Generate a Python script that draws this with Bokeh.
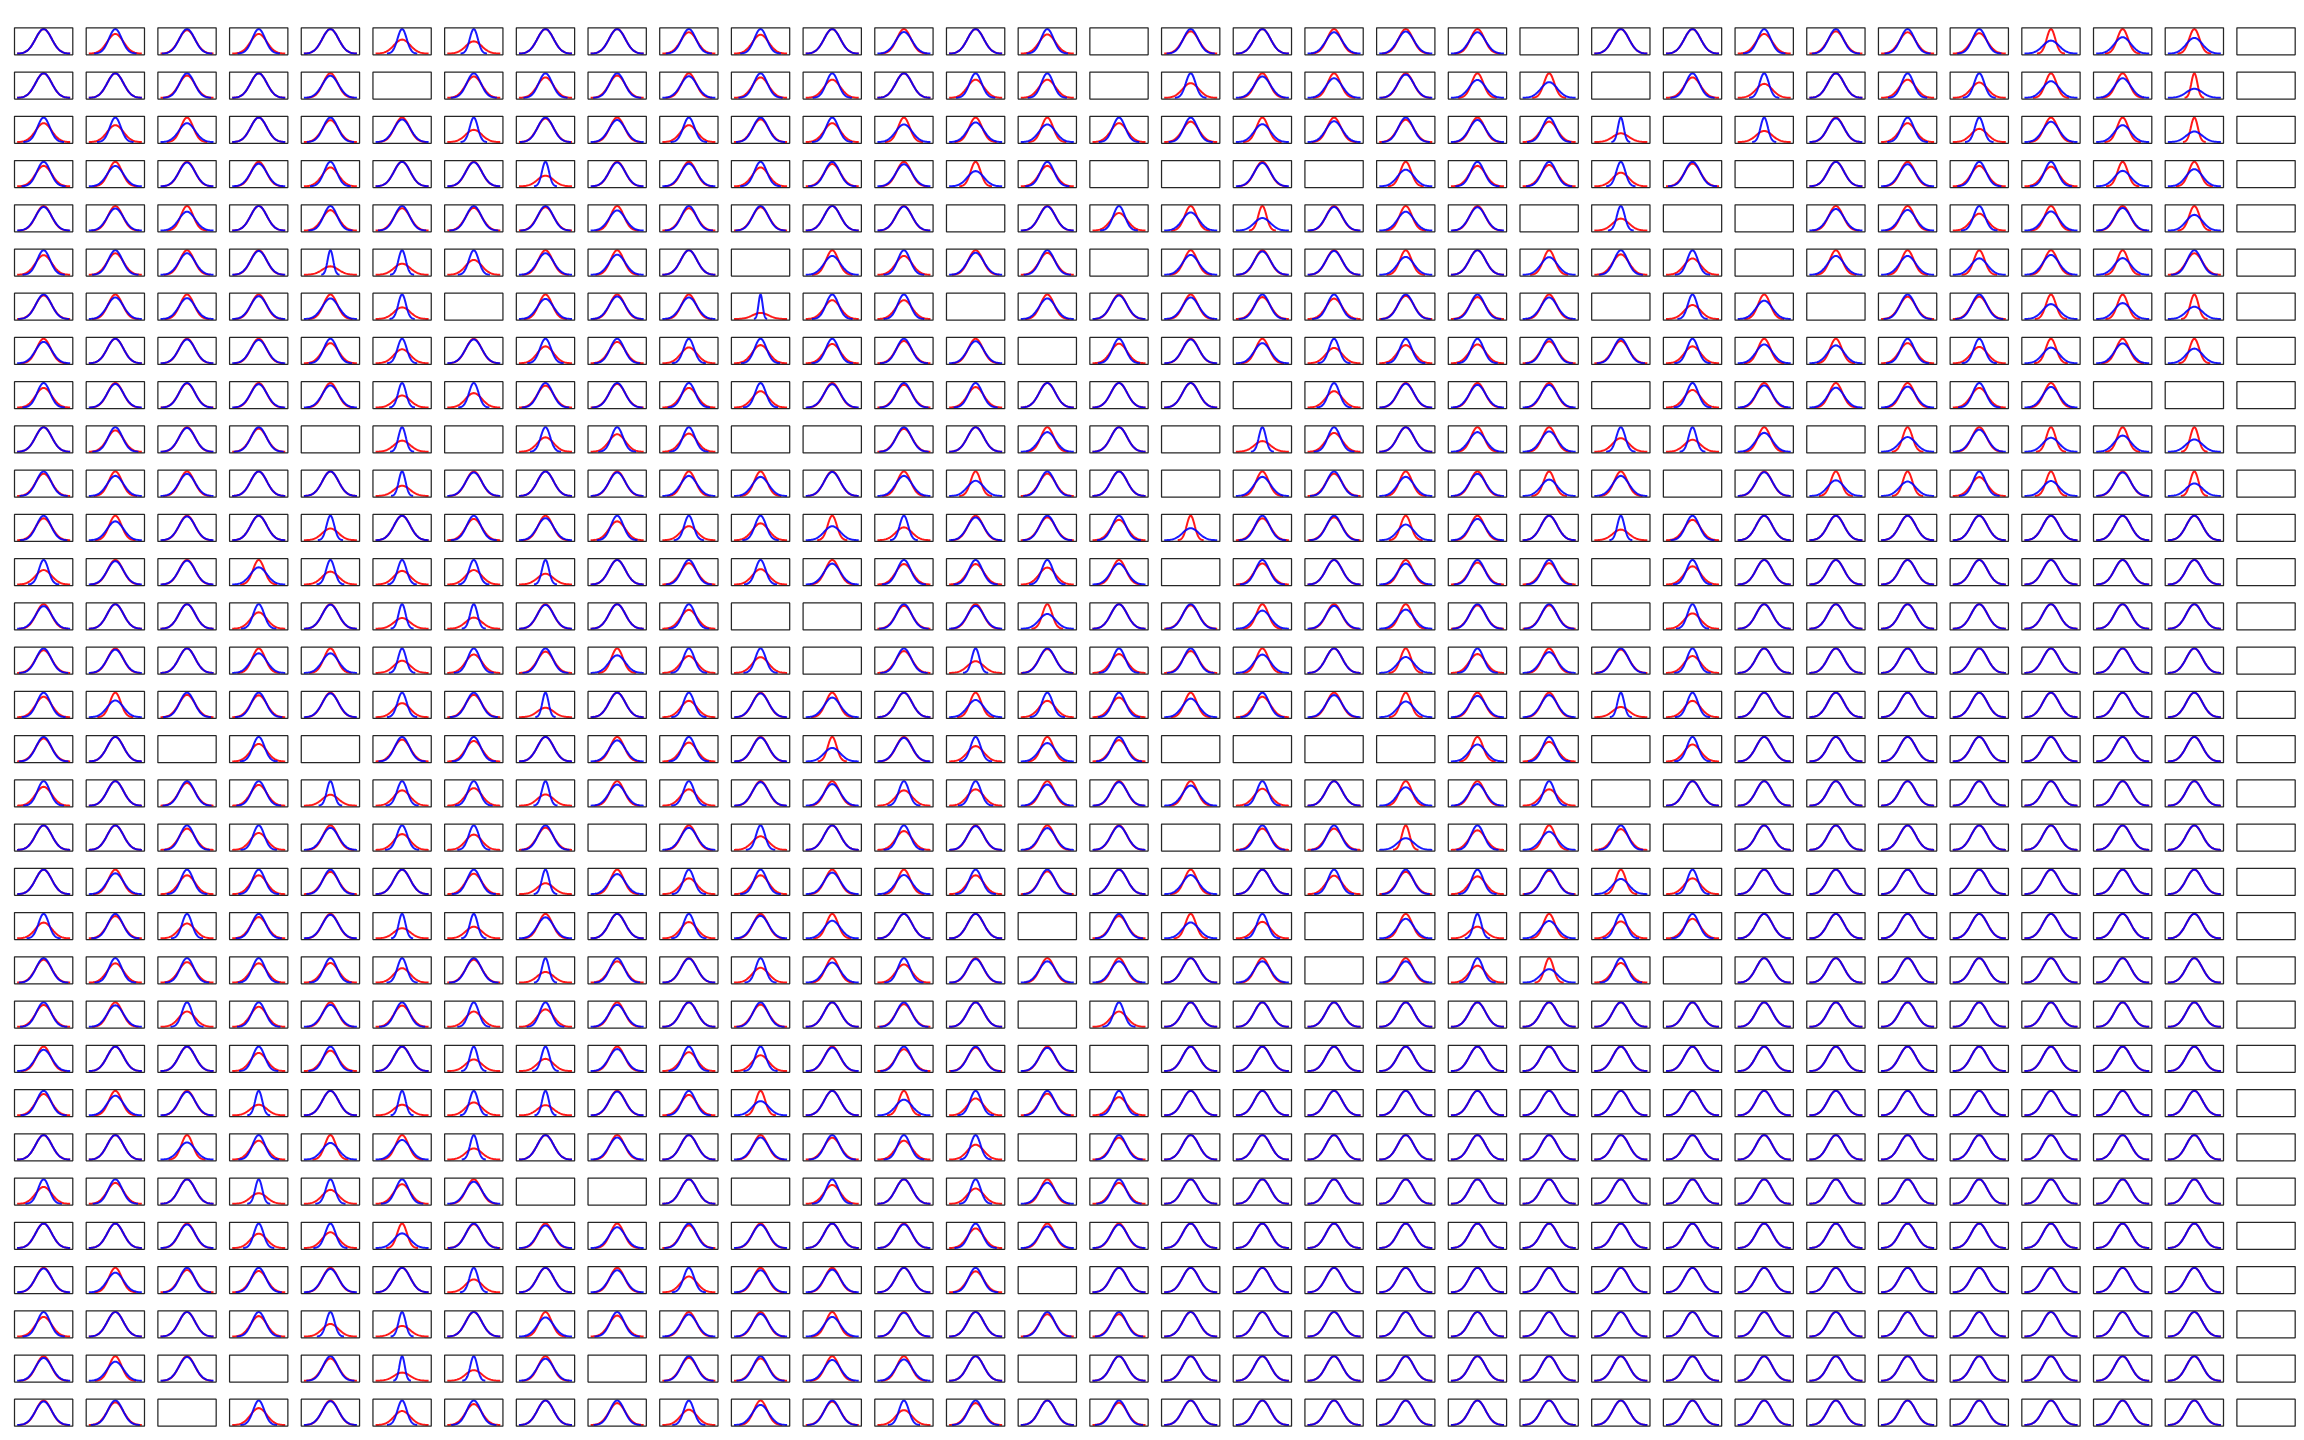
import numpy as np
from bokeh.plotting import figure
from bokeh.models import Range1d
from bokeh.embed import file_html
from bokeh.resources import INLINE

# Each value: width of the red normal curve relative to the blue one (sigma_red / sigma_blue).
# None marks an empty panel.
r00 = [1.0, 1.25, 1.05, 1.25, 1.0, 1.75, 2.0, 1.0, 1.0, 1.15, 1.3, 1.0, 0.88, 1.0, 1.28, None, 1.1, 1.0, 0.87, 0.9, 0.87, None, 1.0, 1.0, 1.25, 1.1, 1.15, 1.2, 0.53, 0.67, 0.64, None]
r01 = [1.0, 1.0, 1.1, 1.0, 0.9, None, 1.15, 1.2, 1.1, 0.88, 1.2, 1.35, 1.0, 1.35, 1.35, None, 1.67, 0.87, 0.8, 0.95, 0.73, 0.64, None, 1.2, 1.75, 1.0, 1.35, 1.6, 0.68, 0.8, 0.37, None]
r02 = [1.3, 1.45, 0.77, 1.0, 1.12, 0.92, 2.0, 1.04, 0.9, 1.45, 1.08, 1.3, 0.72, 0.8, 0.72, 1.3, 1.2, 0.73, 0.85, 1.1, 0.9, 1.2, 2.8, None, 2.2, 0.97, 1.3, 1.85, 0.83, 0.69, 0.43, None]
r03 = [1.2, 0.83, 0.97, 0.92, 1.3, 1.0, 0.98, 2.3, 0.97, 0.92, 1.3, 1.1, 0.9, 0.62, 1.2, None, None, 0.95, None, 0.68, 1.2, 1.15, 1.8, 1.08, None, 1.0, 0.9, 1.2, 1.25, 0.63, 0.7, None]
r04 = [0.96, 0.9, 0.77, 1.0, 1.2, 1.1, 1.08, 1.05, 0.82, 1.1, 1.05, 1.0, 0.98, None, 0.98, 1.4, 0.74, 0.51, 0.96, 0.77, 0.95, None, 2.05, None, None, 0.88, 0.84, 1.45, 0.78, 0.92, 0.64, None]
r05 = [1.25, 1.14, 0.88, 0.97, 2.9, 2.2, 1.65, 0.88, 0.82, 1.0, None, 0.77, 1.3, 0.9, 1.12, None, 0.81, 0.95, 0.97, 0.73, 1.0, 0.72, 1.2, 1.5, None, 0.77, 0.77, 0.67, 0.81, 0.68, 1.14, None]
r06 = [1.04, 0.88, 0.85, 0.93, 0.84, 2.1, None, 0.82, 0.92, 0.88, 4.0, 1.3, 1.3, None, 0.84, 0.96, 0.88, 1.12, 1.2, 1.06, 1.12, 0.88, None, 1.75, 0.75, None, 1.1, 1.1, 0.61, 0.65, 0.5, None]
r07 = [0.87, 1.0, 0.97, 0.95, 1.22, 1.75, 0.97, 1.45, 1.15, 1.55, 1.35, 1.27, 1.1, 0.9, None, 1.25, 0.97, 0.82, 1.6, 1.35, 1.3, 1.12, 1.1, 1.45, 0.77, 0.73, 1.22, 1.5, 0.64, 0.81, 0.6, None]
r08 = [1.25, 0.96, 1.02, 0.95, 0.9, 2.05, 1.7, 1.12, 1.04, 1.25, 1.5, 0.95, 1.08, 1.2, 1.0, 1.0, 1.0, None, 1.5, 0.97, 0.92, 0.92, None, 1.4, 0.9, 0.81, 0.85, 1.25, 0.84, None, None, None]
r09 = [1.0, 1.15, 0.97, 1.06, None, 2.2, None, 1.7, 1.4, 1.35, None, None, 1.07, 1.0, 0.8, 1.0, None, 2.3, 1.3, 1.0, 0.8, 0.83, 1.8, 2.05, 0.77, None, 0.6, 0.9, 0.57, 0.66, 0.5, None]
r10 = [1.1, 0.82, 0.9, 1.0, 1.0, 2.4, 0.96, 1.0, 0.96, 0.82, 0.78, 0.98, 0.82, 0.62, 1.1, 1.0, None, 0.78, 1.1, 0.78, 0.9, 0.67, 0.82, None, 0.97, 0.64, 0.59, 1.3, 0.61, 0.96, 0.51, None]
r11 = [1.12, 0.77, 0.97, 1.0, 2.1, 1.0, 1.15, 0.9, 1.3, 1.75, 1.45, 0.57, 1.9, 0.93, 1.07, 1.2, 0.49, 1.12, 1.07, 0.64, 0.87, 1.0, 2.3, 1.2, 1.0, 1.0, 1.0, 1.0, 1.0, 1.0, 1.0, None]
r12 = [1.7, 0.95, 0.97, 0.7, 1.9, 1.8, 1.7, 2.3, 1.0, 1.15, 1.6, 0.85, 1.2, 1.2, 1.45, 0.85, None, 1.17, 1.0, 0.85, 1.12, 1.15, None, 1.35, 1.0, 1.0, 1.0, 1.0, 1.0, 1.0, 1.0, None]
r13 = [0.92, 1.0, 1.0, 1.5, 0.98, 2.3, 2.2, 0.97, 1.0, 1.3, None, None, 1.07, 0.93, 0.6, 1.0, 1.05, 0.74, 0.93, 0.78, 1.05, 1.05, None, 1.6, 1.0, 1.0, 1.0, 1.0, 1.0, 1.0, 1.0, None]
r14 = [1.08, 0.95, 1.0, 0.8, 0.8, 2.0, 1.33, 1.15, 0.72, 1.45, 1.55, None, 1.12, 2.1, 1.03, 1.3, 1.12, 0.75, 1.0, 0.65, 1.3, 0.85, 1.05, 1.45, 1.0, 1.0, 1.0, 1.0, 1.0, 1.0, 1.0, None]
r15 = [1.2, 0.68, 1.1, 1.12, 0.97, 1.75, 1.1, 2.6, 1.0, 1.5, 0.97, 0.8, 1.0, 0.7, 1.5, 1.25, 0.76, 1.2, 0.9, 0.64, 0.87, 0.9, 2.4, 1.5, 1.0, 1.0, 1.0, 1.0, 1.0, 1.0, 1.0, None]
r16 = [1.07, 1.0, None, 1.4, None, 1.12, 1.2, 1.0, 0.86, 1.3, 0.97, 0.55, 0.96, 1.6, 0.75, 1.15, None, None, None, None, 0.69, 1.25, None, 1.45, 1.0, 1.0, 1.0, 1.0, 1.0, 1.0, 1.0, None]
r17 = [1.3, 1.0, 1.08, 1.18, 2.25, 1.6, 1.4, 2.2, 0.86, 1.5, 0.96, 0.88, 1.6, 1.5, 0.86, 0.96, 0.82, 1.45, 1.0, 0.75, 0.88, 1.5, None, 1.0, 1.0, 1.0, 1.0, 1.0, 1.0, 1.0, 1.0, None]
r18 = [1.0, 1.0, 1.15, 1.45, 0.9, 1.55, 1.6, 1.1, None, 0.9, 1.8, 1.0, 1.3, 0.97, 0.89, 0.97, None, 1.15, 1.15, 0.48, 1.25, 0.74, 1.18, None, 1.0, 1.0, 1.0, 1.0, 1.0, 1.0, 1.0, None]
r19 = [1.0, 0.85, 1.3, 1.3, 1.1, 1.0, 1.2, 2.25, 0.82, 1.55, 1.3, 0.88, 0.78, 1.3, 1.08, 1.0, 0.78, 1.0, 1.33, 1.1, 1.38, 1.05, 0.62, 1.55, 1.0, 1.0, 1.0, 1.0, 1.0, 1.0, 1.0, None]
r20 = [1.55, 1.1, 1.65, 1.15, 0.96, 2.4, 2.1, 0.86, 1.0, 1.5, 0.92, 0.72, 1.0, 1.0, None, 1.1, 0.65, 1.48, None, 0.8, 2.1, 0.71, 1.45, 1.25, 1.0, 1.0, 1.0, 1.0, 1.0, 1.0, 1.0, None]
r21 = [1.07, 1.27, 1.2, 1.27, 1.25, 1.7, 1.07, 2.3, 1.15, 0.98, 1.65, 0.82, 1.35, 0.96, 0.87, 0.87, 1.0, 0.87, None, 0.87, 1.45, 0.55, 1.25, None, 1.0, 1.0, 1.0, 1.0, 1.0, 1.0, 1.0, None]
r22 = [1.12, 0.88, 1.6, 1.22, 0.9, 1.15, 1.6, 1.4, 0.9, 1.0, 1.1, 1.0, 1.08, 1.0, None, 1.6] + [1.0] * 15 + [None]
r23 = [0.87, 1.0, 1.0, 1.35, 1.2, 1.0, 2.1, 2.0, 0.9, 1.3, 1.55, 0.96, 1.12, 1.05, 0.95, None] + [1.0] * 15 + [None]
r24 = [1.15, 0.8, 0.96, 2.3, 1.0, 2.3, 1.9, 2.4, 0.97, 1.2, 0.58, 1.0, 0.64, 1.45, 1.13, 1.35] + [1.0] * 15 + [None]
r25 = [1.0, 1.0, 0.7, 1.3, 0.68, 0.8, 2.2, 1.0, 0.9, 1.0, 0.9, 1.12, 1.3, 1.65, None, 1.12] + [1.0] * 15 + [None]
r26 = [1.45, 1.17, 1.0, 2.3, 1.75, 1.25, 0.9, None, None, 1.0, None, 1.3, 1.0, 1.6, 0.86, 1.17] + [1.0] * 15 + [None]
r27 = [1.0, 1.0, 0.96, 1.7, 1.55, 0.6, 1.03, 0.92, 0.85, 1.08, 0.95, 1.0, 0.97, 1.25, 0.88, 0.95] + [1.0] * 15 + [None]
r28 = [0.97, 0.8, 1.1, 1.15, 0.95, 1.0, 1.9, 1.0, 0.9, 1.55, 0.9, 0.92, 1.0, 1.17, None, 1.0] + [1.0] * 15 + [None]
r29 = [1.25, 1.0, 1.0, 1.2, 1.95, 2.3, 1.0, 0.78, 1.17, 0.9, 0.92, 0.8, 0.97, 1.0, 1.1, 1.1] + [1.0] * 15 + [None]
r30 = [0.93, 0.78, 0.97, None, 1.1, 3.0, 2.3, 0.9, None, 1.07, 1.1, 0.85, 0.87, 1.0, None, 1.0] + [1.0] * 15 + [None]
r31 = [0.96, 1.08, None, 1.45, 0.97, 1.75, 1.17, 1.0, 1.12, 1.6, 0.82, 1.05, 1.65, 1.12, 1.0, 1.1] + [1.0] * 15 + [None]

panel_rows = [r00, r01, r02, r03, r04, r05, r06, r07, r08, r09, r10, r11, r12, r13, r14, r15,
              r16, r17, r18, r19, r20, r21, r22, r23, r24, r25, r26, r27, r28, r29, r30, r31]

BLUE_SIGMA = 1.0
SPAN = 3.3        # each curve drawn over mean +/- SPAN sigma
NPTS = 61

RED = "#ff0000"
BLUE = "#0000ff"
FRAME = "#262626"

W, H = 2304, 1440
COL_PITCH = 71.69
ROW_PITCH = 44.24
FIRST_LEFT = 14.0
FIRST_TOP = 27.3
FRAME_W = 58.3
FRAME_H = 27.0


def normal_pdf(x, s):
    return np.exp(-0.5 * (x / s) ** 2) / (s * np.sqrt(2 * np.pi))


p = figure(width=W, height=H, output_backend="svg", toolbar_location=None, tools="",
           x_axis_type=None, y_axis_type=None, title=None,
           x_range=Range1d(0, W), y_range=Range1d(H, 0),
           min_border=0)
p.outline_line_color = None
p.background_fill_color = "white"
p.border_fill_color = "white"

lefts, rights, tops, bottoms = [], [], [], []
red_xs, red_ys, blue_xs, blue_ys = [], [], [], []

for r, vals in enumerate(panel_rows):
    for c, ratio in enumerate(vals):
        L = FIRST_LEFT + c * COL_PITCH
        T = FIRST_TOP + r * ROW_PITCH
        lefts.append(L)
        rights.append(L + FRAME_W)
        tops.append(T)
        bottoms.append(T + FRAME_H)
        if ratio is None:
            continue
        sb = BLUE_SIGMA
        sr = BLUE_SIGMA * ratio
        xb = np.linspace(-SPAN * sb, SPAN * sb, NPTS)
        xr = np.linspace(-SPAN * sr, SPAN * sr, NPTS)
        yb = normal_pdf(xb, sb)
        yr = normal_pdf(xr, sr)
        x0 = min(xb.min(), xr.min())
        x1 = max(xb.max(), xr.max())
        y0 = min(yb.min(), yr.min())
        y1 = max(yb.max(), yr.max())
        xlo, xhi = x0 - 0.05 * (x1 - x0), x1 + 0.05 * (x1 - x0)
        ylo, yhi = y0 - 0.05 * (y1 - y0), y1 + 0.05 * (y1 - y0)

        def sx(x):
            return L + (x - xlo) / (xhi - xlo) * FRAME_W

        def sy(y):
            return T + (yhi - y) / (yhi - ylo) * FRAME_H

        red_xs.append(list(sx(xr)))
        red_ys.append(list(sy(yr)))
        blue_xs.append(list(sx(xb)))
        blue_ys.append(list(sy(yb)))

p.multi_line(red_xs, red_ys, line_color=RED, line_width=2, line_alpha=0.9)
p.multi_line(blue_xs, blue_ys, line_color=BLUE, line_width=2, line_alpha=0.9)
p.quad(left=lefts, right=rights, top=tops, bottom=bottoms,
       fill_color=None, line_color=FRAME, line_width=1.25)

open("out.html", "w").write(file_html(p, INLINE))
